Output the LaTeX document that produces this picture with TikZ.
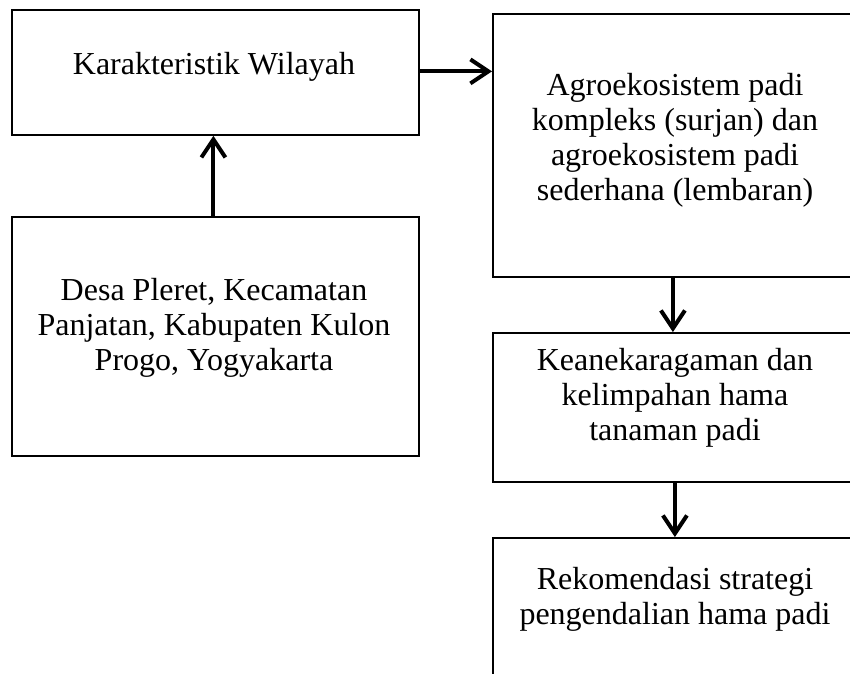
\documentclass[tikz,border=0pt]{standalone}
\usepackage{fontspec}
\setmainfont{Liberation Serif}
\usetikzlibrary{arrows.meta}
\begin{document}
\begin{tikzpicture}[x=1pt,y=-1pt,
  box/.style={draw, line width=1.8pt, inner sep=0pt, anchor=north west},
  txt/.style={align=center, anchor=base, inner sep=0pt, font=\fontsize{32}{35}\selectfont},
  arr/.style={line width=4pt, -{Straight Barb[length=18pt,width=24pt,line width=4pt]}}]
\clip (0,0) rectangle (850,673);
\fill[white] (0,0) rectangle (850,673);
\node[box, minimum width=407pt, minimum height=125pt] (b1) at (11,9) {};
\node[box, minimum width=407pt, minimum height=239pt] (b2) at (11,216) {};
\node[box, minimum width=366pt, minimum height=263pt] (b3) at (492,13) {};
\node[box, minimum width=366pt, minimum height=149pt] (b4) at (492,332) {};
\node[box, minimum width=366pt, minimum height=170pt] (b5) at (492,537) {};
\node[txt] (t1) at (214,74) {Karakteristik Wilayah};
\node[txt] (t2) at (214,370) {Desa Pleret, Kecamatan\\Panjatan, Kabupaten Kulon\\Progo, Yogyakarta};
\node[txt] (t3) at (675,200) {Agroekosistem padi\\kompleks (surjan) dan\\agroekosistem padi\\sederhana (lembaran)};
\node[txt] (t4) at (675,440) {Keanekaragaman dan\\kelimpahan hama\\tanaman padi};
\node[txt] (t5) at (675,624) {Rekomendasi strategi\\pengendalian hama padi};
\draw[arr] ([yshift=1pt]b1.east) -- ([yshift=1pt]b1.east -| b3.west);
\draw[arr] ([xshift=-2pt]b2.north) -- ([xshift=-2pt]b1.south);
\draw[arr] ([xshift=-3pt]b3.south) -- ([xshift=-3pt]b4.north);
\draw[arr] ([xshift=-1pt]b4.south) -- ([xshift=-1pt]b5.north);
\end{tikzpicture}
\end{document}
